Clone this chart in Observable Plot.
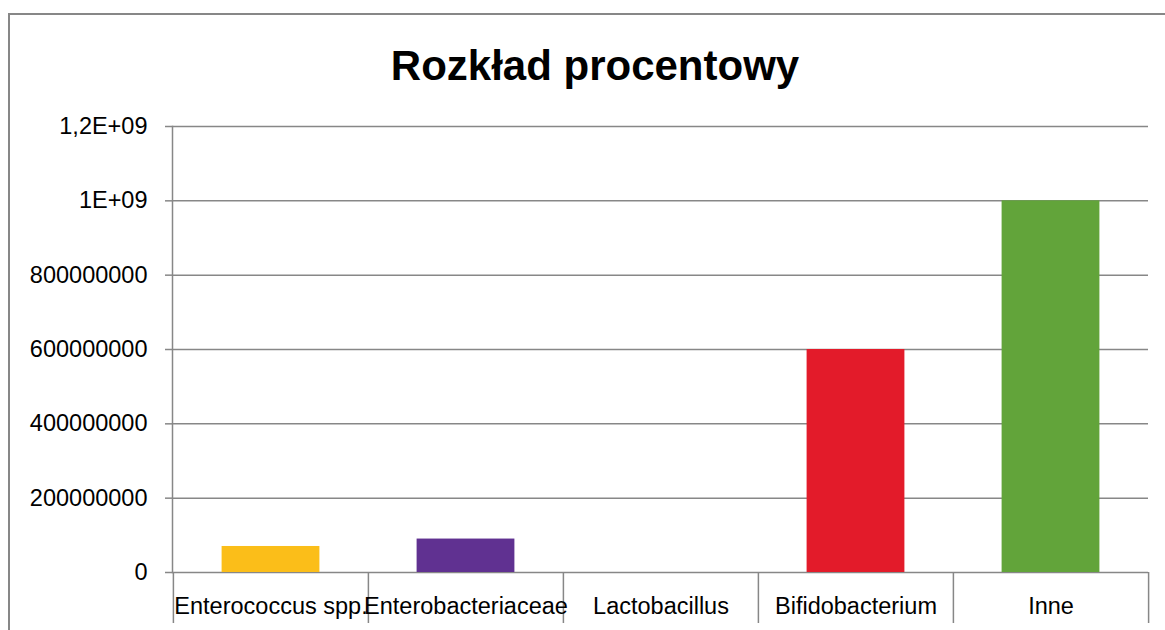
<!DOCTYPE html>
<html>
<head>
<meta charset="utf-8">
<script src="https://cdn.jsdelivr.net/npm/d3@7"></script>
<script src="https://cdn.jsdelivr.net/npm/@observablehq/plot@0.6"></script>
<style>
  html, body { margin: 0; padding: 0; background: #fff; }
  #wrap { position: relative; width: 1165px; height: 630px; overflow: hidden; background: #fff; font-family: "Liberation Sans", Arial, sans-serif; }
  #border { position: absolute; left: 8px; top: 13px; width: 1200px; height: 700px; border: 2px solid #878787; box-sizing: border-box; }
  #title { position: absolute; left: 8px; width: 1174px; top: 45px; text-align: center; font-size: 42px; line-height: 42px; font-weight: bold; color: #000; margin: 0; }
  #chart { position: absolute; left: 0; top: 100px; }
  #chart svg { overflow: visible; }
</style>
</head>
<body>
<div id="wrap">
  <div id="border"></div>
  <h1 id="title">Rozkład procentowy</h1>
  <div id="chart"></div>
</div>
<script>
const categories = ["Enterococcus spp.", "Enterobacteriaceae", "Lactobacillus", "Bifidobacterium", "Inne"];
const values = [70000000, 90000000, 0, 600000000, 1000000000];
const colors = ["#FBBE19", "#603191", "#4472C4", "#E31B2A", "#62A43A"];
const yTicks = [0, 200000000, 400000000, 600000000, 800000000, 1000000000, 1200000000];
const yTickLabels = ["0", "200000000", "400000000", "600000000", "800000000", "1E+09", "1,2E+09"];

const data = categories.map((c, i) => ({category: c, value: values[i], color: colors[i]}));

const W = 1165, H = 530, mL = 172, mR = 17, mT = 26, mB = 58;
const step = (W - mL - mR) / categories.length;
const barW = 98;
const inset = (step - barW) / 2;
const gridColor = "#878787";

const chart = Plot.plot({
  width: W,
  height: H,
  marginLeft: mL,
  marginRight: mR,
  marginTop: mT,
  marginBottom: mB,
  style: {fontFamily: "'Liberation Sans', Arial, sans-serif", fontSize: "23.5px", color: "#000", background: "transparent"},
  x: {domain: categories, padding: 0},
  y: {domain: [0, 1200000000]},
  marks: [
    Plot.ruleY(yTicks, {stroke: gridColor, strokeWidth: 1.5}),
    Plot.frame({anchor: "left", stroke: gridColor, strokeWidth: 1.5}),
    Plot.barY(data, {x: "category", y: "value", fill: "color", insetLeft: inset, insetRight: inset}),
    Plot.ruleX(categories, {x: d => d, y1: 0, y2: 0, insetBottom: -51, dx: -step / 2, stroke: gridColor, strokeWidth: 1.5}),
    Plot.ruleX(categories.slice(-1), {x: d => d, y1: 0, y2: 0, insetBottom: -51, dx: step / 2, stroke: gridColor, strokeWidth: 1.5}),
    Plot.axisY({ticks: yTicks, tickSize: 7, tickPadding: 18, stroke: gridColor, strokeWidth: 1.5, strokeOpacity: 1,
      tickFormat: v => yTickLabels[yTicks.indexOf(v)], label: null, fill: "#000"}),
    Plot.axisX({tickSize: 0, tickPadding: 25, label: null, fill: "#000"})
  ]
});
document.getElementById("chart").appendChild(chart);
</script>
</body>
</html>
